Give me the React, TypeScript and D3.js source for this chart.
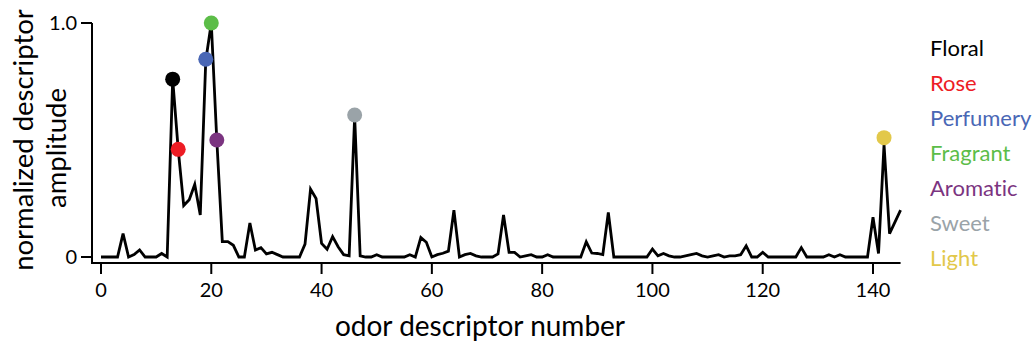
import React, { useEffect, useRef } from "react";
import * as d3 from "d3";

const amplitudes: number[] = [
  0, 0, 0, 0, 0.1, 0, 0.01, 0.03, 0, 0,
  0, 0.015, 0, 0.76, 0.46, 0.22, 0.245, 0.31, 0.18, 0.84,
  1.0, 0.5, 0.066, 0.066, 0.05, 0, 0, 0.145, 0.03, 0.04,
  0.013, 0.02, 0.01, 0, 0, 0, 0, 0.055, 0.29, 0.25,
  0.058, 0.033, 0.087, 0.044, 0.01, 0.005, 0.6, 0.005, 0, 0,
  0.01, 0, 0, 0, 0, 0, 0.01, 0, 0.083, 0.063,
  0, 0.01, 0.016, 0.025, 0.2, 0, 0.01, 0.015, 0.005, 0,
  0, 0, 0.013, 0.18, 0.02, 0.02, 0, 0.005, 0.01, 0,
  0, 0.01, 0, 0, 0, 0, 0, 0, 0.065, 0.017,
  0.015, 0.01, 0.19, 0, 0, 0, 0, 0, 0, 0,
  0.034, 0.005, 0.015, 0.005, 0, 0, 0.005, 0.01, 0.015, 0.005,
  0, 0.005, 0.01, 0, 0.005, 0.005, 0.01, 0.048, 0, 0,
  0.02, 0, 0, 0, 0, 0, 0, 0.04, 0, 0,
  0, 0, 0.01, 0, 0.01, 0, 0, 0, 0, 0,
  0.17, 0.015, 0.48, 0.1, 0.15, 0.2,
];

const descriptorNames = ["Floral", "Rose", "Perfumery", "Fragrant", "Aromatic", "Sweet", "Light"];
const descriptorIndex = [13, 14, 19, 20, 21, 46, 142];
const descriptorValue = [0.76, 0.46, 0.845, 1.0, 0.5, 0.607, 0.51];
const descriptorColors = ["#000000", "#ed1c24", "#4a67b5", "#5cbd48", "#7b3480", "#9aa3a8", "#e2c84a"];

const xTicks = [0, 20, 40, 60, 80, 100, 120, 140];
const yTicks = [0, 1];
const yTickLabels = ["0", "1.0"];

const FONT = "Lato, 'Noto Sans', sans-serif";

export default function App() {
  const ref = useRef<SVGSVGElement | null>(null);

  useEffect(() => {
    const svg = d3.select(ref.current);
    svg.selectAll("*").remove();
    svg.style("font-variant-ligatures", "none");

    const x = d3.scaleLinear().domain([0, 140]).range([101, 873]);
    const y = d3.scaleLinear().domain([0, 1]).range([257, 23]);

    const yAxisX = 92;
    const xAxisY = 263;
    svg.append("line")
      .attr("x1", yAxisX).attr("x2", yAxisX)
      .attr("y1", y(1)).attr("y2", xAxisY + 1)
      .attr("stroke", "#000").attr("stroke-width", 2);
    yTicks.forEach((t, i) => {
      svg.append("line")
        .attr("x1", yAxisX - 11).attr("x2", yAxisX)
        .attr("y1", y(t)).attr("y2", y(t))
        .attr("stroke", "#000").attr("stroke-width", 2);
      svg.append("text")
        .attr("x", yAxisX - 15).attr("y", y(t))
        .attr("dy", "0.35em")
        .attr("text-anchor", "end")
        .attr("font-family", FONT).attr("font-size", 20)
        .text(yTickLabels[i]);
    });

    svg.append("line")
      .attr("x1", yAxisX - 1).attr("x2", x(145))
      .attr("y1", xAxisY).attr("y2", xAxisY)
      .attr("stroke", "#000").attr("stroke-width", 2);
    xTicks.forEach((t) => {
      svg.append("line")
        .attr("x1", x(t)).attr("x2", x(t))
        .attr("y1", xAxisY).attr("y2", xAxisY + 11)
        .attr("stroke", "#000").attr("stroke-width", 2);
      svg.append("text")
        .attr("x", x(t)).attr("y", 297)
        .attr("text-anchor", "middle")
        .attr("font-family", FONT).attr("font-size", 20)
        .text(String(t));
    });

    svg.append("text")
      .attr("x", 480).attr("y", 336)
      .attr("text-anchor", "middle")
      .attr("font-family", FONT).attr("font-size", 28)
      .text("odor descriptor number");
    svg.append("text")
      .attr("transform", "translate(33,140) rotate(-90)")
      .attr("text-anchor", "middle")
      .attr("font-family", FONT).attr("font-size", 27.5)
      .text("normalized descriptor");
    svg.append("text")
      .attr("transform", "translate(66,148) rotate(-90)")
      .attr("text-anchor", "middle")
      .attr("font-family", FONT).attr("font-size", 27.5)
      .text("amplitude");

    const line = d3.line<number>()
      .x((_, i) => x(i))
      .y((d) => y(d));
    svg.append("path")
      .datum(amplitudes)
      .attr("d", line)
      .attr("fill", "none")
      .attr("stroke", "#000")
      .attr("stroke-width", 2.8)
      .attr("stroke-linejoin", "miter");

    descriptorIndex.forEach((idx, i) => {
      svg.append("circle")
        .attr("cx", x(idx)).attr("cy", y(descriptorValue[i]))
        .attr("r", 7.5)
        .attr("fill", descriptorColors[i]);
    });

    descriptorNames.forEach((name, i) => {
      svg.append("text")
        .attr("x", 930).attr("y", 56 + i * 35)
        .attr("font-family", FONT).attr("font-size", 22)
        .attr("fill", descriptorColors[i])
        .text(name);
    });
  }, []);

  return (
    <svg
      ref={ref}
      width={1033}
      height={345}
      style={{ position: "absolute", left: 0, top: 0, background: "#fff" }}
    />
  );
}
